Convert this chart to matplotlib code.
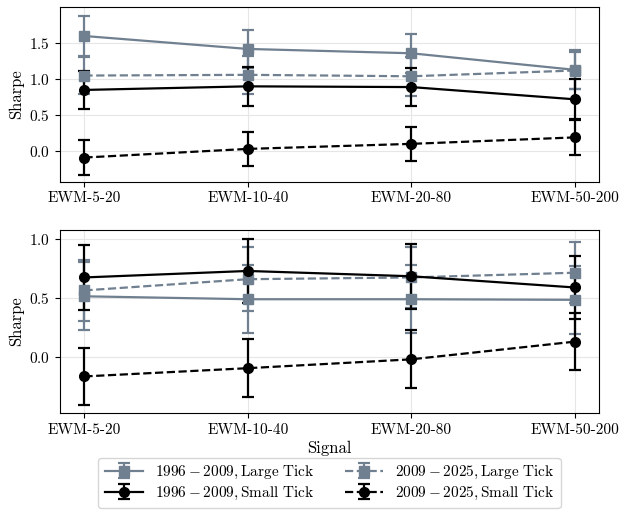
import matplotlib

matplotlib.use("Agg")
import matplotlib.pyplot as plt

plt.rcParams["font.family"] = "serif"
plt.rcParams["font.serif"] = ["cmr10"]
plt.rcParams["mathtext.fontset"] = "cm"
plt.rcParams["axes.formatter.use_mathtext"] = True
plt.rcParams["axes.unicode_minus"] = True

signals = ["EWM-5-20", "EWM-10-40", "EWM-20-80", "EWM-50-200"]

# top panel
top_large_early = [1.60, 1.42, 1.36, 1.13]
top_large_early_err = [0.28, 0.27, 0.27, 0.27]
top_large_late = [1.05, 1.06, 1.04, 1.12]
top_large_late_err = [0.26, 0.26, 0.27, 0.26]
top_small_early = [0.85, 0.90, 0.89, 0.72]
top_small_early_err = [0.27, 0.27, 0.27, 0.28]
top_small_late = [-0.09, 0.03, 0.10, 0.19]
top_small_late_err = [0.24, 0.24, 0.24, 0.245]

# bottom panel
bot_large_early = [0.515, 0.49, 0.49, 0.485]
bot_large_early_err = [0.29, 0.29, 0.29, 0.29]
bot_large_late = [0.565, 0.66, 0.675, 0.715]
bot_large_late_err = [0.26, 0.27, 0.26, 0.26]
bot_small_early = [0.675, 0.73, 0.685, 0.59]
bot_small_early_err = [0.275, 0.275, 0.275, 0.27]
bot_small_late = [-0.165, -0.095, -0.02, 0.13]
bot_small_late_err = [0.245, 0.245, 0.245, 0.24]

labels = [
    r"$1996 - 2009, \mathrm{Large\ Tick}$",
    r"$2009 - 2025, \mathrm{Large\ Tick}$",
    r"$1996 - 2009, \mathrm{Small\ Tick}$",
    r"$2009 - 2025, \mathrm{Small\ Tick}$",
]
GRAY = "#708090"
styles = [
    dict(color=GRAY, marker="s", linestyle="-"),
    dict(color=GRAY, marker="s", linestyle="--"),
    dict(color="black", marker="o", linestyle="-"),
    dict(color="black", marker="o", linestyle="--"),
]


def draw_panel(ax, series):
    x = list(range(len(signals)))
    handles = []
    for (vals, errs), label, style in zip(series, labels, styles):
        h = ax.errorbar(
            x, vals, yerr=errs, label=label, markersize=7, linewidth=1.6,
            elinewidth=1.6, capsize=4, capthick=1.6, **style,
        )
        handles.append(h)
    ax.set_xticks(x)
    ax.set_xticklabels(signals)
    ax.set_ylabel("Sharpe", fontsize=12)
    ax.grid(True, color="#e6e6e6", linewidth=0.8)
    ax.set_axisbelow(True)
    ax.tick_params(labelsize=11)
    return handles


fig = plt.figure(figsize=(6.24, 5.17), dpi=100)
ax1 = fig.add_axes([0.096, 0.648, 0.864, 0.338])
ax2 = fig.add_axes([0.096, 0.201, 0.864, 0.354])

draw_panel(ax1, [
    (top_large_early, top_large_early_err),
    (top_large_late, top_large_late_err),
    (top_small_early, top_small_early_err),
    (top_small_late, top_small_late_err),
])
ax1.set_ylim(-0.43, 2.0)
ax1.set_yticks([0.0, 0.5, 1.0, 1.5])

handles = draw_panel(ax2, [
    (bot_large_early, bot_large_early_err),
    (bot_large_late, bot_large_late_err),
    (bot_small_early, bot_small_early_err),
    (bot_small_late, bot_small_late_err),
])
ax2.set_ylim(-0.476, 1.077)
ax2.set_yticks([0.0, 0.5, 1.0])
ax2.set_xlabel("Signal", fontsize=12, labelpad=3)

order = [0, 2, 1, 3]
fig.legend(
    [handles[i] for i in order], [labels[i] for i in order],
    loc="upper center", bbox_to_anchor=(0.528, 0.129), ncol=2,
    fontsize=11, columnspacing=2.0, handletextpad=0.8, borderpad=0.4,
    labelspacing=0.25, handlelength=2.5,
)

fig.savefig("out.png", dpi=100)
